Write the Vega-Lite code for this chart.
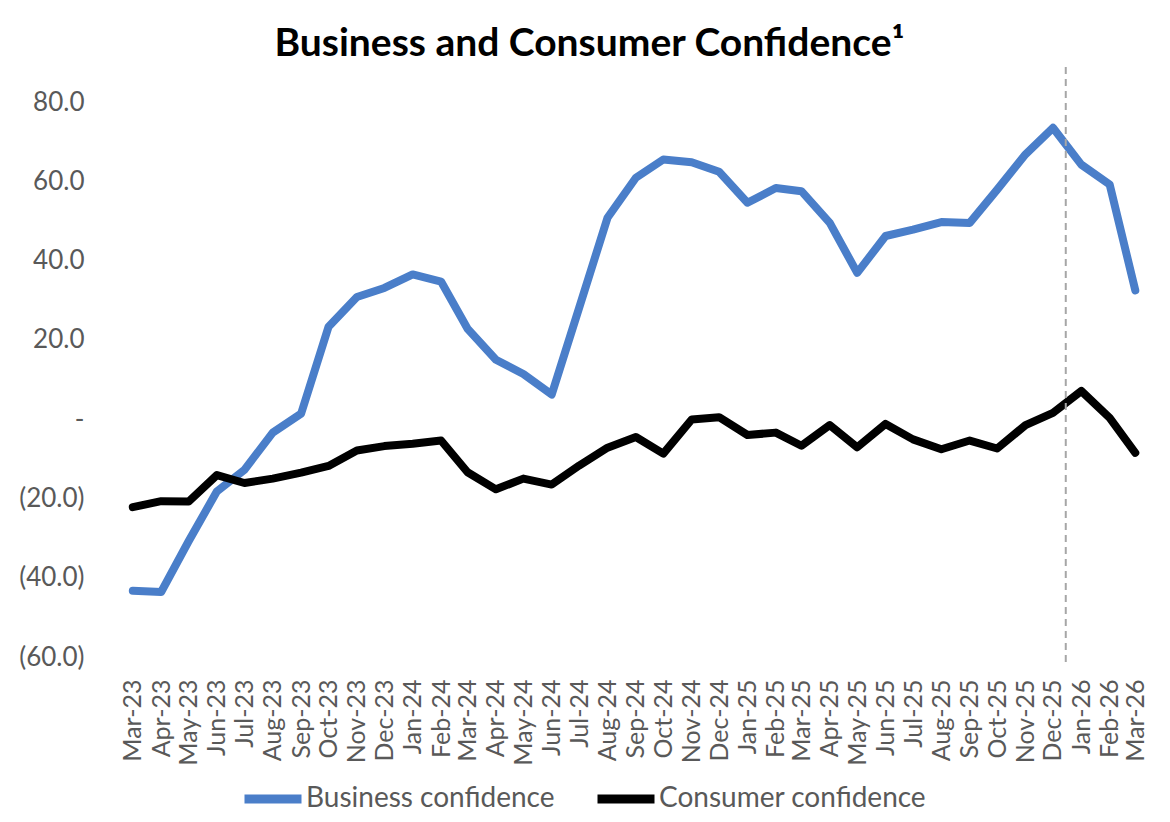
{
  "$schema": "https://vega.github.io/schema/vega-lite/v6.json",
  "width": 1029,
  "height": 555,
  "padding": {"left": 18, "top": 25, "right": 5, "bottom": 5},
  "background": "white",
  "title": {
    "text": "Business and Consumer Confidence¹",
    "font": "Lato",
    "fontSize": 39,
    "fontWeight": "bold",
    "color": "#000000",
    "anchor": "middle",
    "dx": -45,
    "offset": 2
  },
  "config": {
    "view": {"stroke": null},
    "font": "Lato"
  },
  "datasets": {
    "series": [
      {"date": "2023-03-01", "series": "Business confidence", "value": -43.3},
      {"date": "2023-04-01", "series": "Business confidence", "value": -43.6},
      {"date": "2023-05-01", "series": "Business confidence", "value": -30.8},
      {"date": "2023-06-01", "series": "Business confidence", "value": -18.2},
      {"date": "2023-07-01", "series": "Business confidence", "value": -12.8},
      {"date": "2023-08-01", "series": "Business confidence", "value": -3.4},
      {"date": "2023-09-01", "series": "Business confidence", "value": 1.4},
      {"date": "2023-10-01", "series": "Business confidence", "value": 23.3},
      {"date": "2023-11-01", "series": "Business confidence", "value": 30.8},
      {"date": "2023-12-01", "series": "Business confidence", "value": 33.1},
      {"date": "2024-01-01", "series": "Business confidence", "value": 36.5},
      {"date": "2024-02-01", "series": "Business confidence", "value": 34.7},
      {"date": "2024-03-01", "series": "Business confidence", "value": 22.8},
      {"date": "2024-04-01", "series": "Business confidence", "value": 15.0},
      {"date": "2024-05-01", "series": "Business confidence", "value": 11.4},
      {"date": "2024-06-01", "series": "Business confidence", "value": 6.2},
      {"date": "2024-07-01", "series": "Business confidence", "value": 28.1},
      {"date": "2024-08-01", "series": "Business confidence", "value": 50.8},
      {"date": "2024-09-01", "series": "Business confidence", "value": 60.9},
      {"date": "2024-10-01", "series": "Business confidence", "value": 65.5},
      {"date": "2024-11-01", "series": "Business confidence", "value": 64.8},
      {"date": "2024-12-01", "series": "Business confidence", "value": 62.4},
      {"date": "2025-01-01", "series": "Business confidence", "value": 54.6},
      {"date": "2025-02-01", "series": "Business confidence", "value": 58.3},
      {"date": "2025-03-01", "series": "Business confidence", "value": 57.5},
      {"date": "2025-04-01", "series": "Business confidence", "value": 49.5},
      {"date": "2025-05-01", "series": "Business confidence", "value": 36.9},
      {"date": "2025-06-01", "series": "Business confidence", "value": 46.2},
      {"date": "2025-07-01", "series": "Business confidence", "value": 47.8},
      {"date": "2025-08-01", "series": "Business confidence", "value": 49.7},
      {"date": "2025-09-01", "series": "Business confidence", "value": 49.5},
      {"date": "2025-10-01", "series": "Business confidence", "value": 57.9},
      {"date": "2025-11-01", "series": "Business confidence", "value": 66.8},
      {"date": "2025-12-01", "series": "Business confidence", "value": 73.5},
      {"date": "2026-01-01", "series": "Business confidence", "value": 64.2},
      {"date": "2026-02-01", "series": "Business confidence", "value": 59.2},
      {"date": "2026-03-01", "series": "Business confidence", "value": 32.5},
      {"date": "2023-03-01", "series": "Consumer confidence", "value": -22.2},
      {"date": "2023-04-01", "series": "Consumer confidence", "value": -20.7},
      {"date": "2023-05-01", "series": "Consumer confidence", "value": -20.8},
      {"date": "2023-06-01", "series": "Consumer confidence", "value": -14.1},
      {"date": "2023-07-01", "series": "Consumer confidence", "value": -16.1},
      {"date": "2023-08-01", "series": "Consumer confidence", "value": -15.0},
      {"date": "2023-09-01", "series": "Consumer confidence", "value": -13.5},
      {"date": "2023-10-01", "series": "Consumer confidence", "value": -11.8},
      {"date": "2023-11-01", "series": "Consumer confidence", "value": -7.9},
      {"date": "2023-12-01", "series": "Consumer confidence", "value": -6.8},
      {"date": "2024-01-01", "series": "Consumer confidence", "value": -6.2},
      {"date": "2024-02-01", "series": "Consumer confidence", "value": -5.4},
      {"date": "2024-03-01", "series": "Consumer confidence", "value": -13.4},
      {"date": "2024-04-01", "series": "Consumer confidence", "value": -17.7},
      {"date": "2024-05-01", "series": "Consumer confidence", "value": -15.0},
      {"date": "2024-06-01", "series": "Consumer confidence", "value": -16.5},
      {"date": "2024-07-01", "series": "Consumer confidence", "value": -11.7},
      {"date": "2024-08-01", "series": "Consumer confidence", "value": -7.2},
      {"date": "2024-09-01", "series": "Consumer confidence", "value": -4.5},
      {"date": "2024-10-01", "series": "Consumer confidence", "value": -8.7},
      {"date": "2024-11-01", "series": "Consumer confidence", "value": -0.1},
      {"date": "2024-12-01", "series": "Consumer confidence", "value": 0.5},
      {"date": "2025-01-01", "series": "Consumer confidence", "value": -4.0},
      {"date": "2025-02-01", "series": "Consumer confidence", "value": -3.4},
      {"date": "2025-03-01", "series": "Consumer confidence", "value": -6.7},
      {"date": "2025-04-01", "series": "Consumer confidence", "value": -1.5},
      {"date": "2025-05-01", "series": "Consumer confidence", "value": -7.1},
      {"date": "2025-06-01", "series": "Consumer confidence", "value": -1.2},
      {"date": "2025-07-01", "series": "Consumer confidence", "value": -5.1},
      {"date": "2025-08-01", "series": "Consumer confidence", "value": -7.6},
      {"date": "2025-09-01", "series": "Consumer confidence", "value": -5.4},
      {"date": "2025-10-01", "series": "Consumer confidence", "value": -7.4},
      {"date": "2025-11-01", "series": "Consumer confidence", "value": -1.5},
      {"date": "2025-12-01", "series": "Consumer confidence", "value": 1.6},
      {"date": "2026-01-01", "series": "Consumer confidence", "value": 7.1},
      {"date": "2026-02-01", "series": "Consumer confidence", "value": 0.3},
      {"date": "2026-03-01", "series": "Consumer confidence", "value": -8.5}
    ],
    "marker": [
      {"date": "2025-12-15"}
    ]
  },
  "layer": [
    {
      "data": {"name": "series"},
      "mark": {"type": "line", "strokeWidth": 8, "strokeCap": "round", "strokeJoin": "round"},
      "encoding": {
        "x": {
          "field": "date",
          "type": "temporal",
          "scale": {
            "type": "utc",
            "domain": [
              {"year": 2023, "month": 2, "date": 15, "utc": true},
              {"year": 2026, "month": 3, "date": 16, "utc": true}
            ]
          },
          "axis": {
            "title": null,
            "labelExpr": "utcFormat(datum.value, '%b-%y')",
            "tickCount": {"interval": "month", "step": 1},
            "labelAngle": -90,
            "labelAlign": "right",
            "labelBaseline": "middle",
            "labelFont": "Lato",
            "labelFontSize": 25,
            "labelColor": "#595959",
            "labelPadding": 22,
            "labelOverlap": false,
            "labelFlush": false,
            "domain": false,
            "ticks": false,
            "grid": false
          }
        },
        "y": {
          "field": "value",
          "type": "quantitative",
          "scale": {"domain": [-60, 80], "nice": false, "zero": false},
          "axis": {
            "title": null,
            "values": [-60, -40, -20, 0, 20, 40, 60, 80],
            "labelExpr": "datum.value == 0 ? '-' : (datum.value < 0 ? '(' + format(-datum.value, '.1f') + ')' : format(datum.value, '.1f'))",
            "labelFont": "Lato",
            "labelFontSize": 26,
            "labelColor": "#595959",
            "labelPadding": 36,
            "domain": false,
            "ticks": false,
            "grid": false
          }
        },
        "color": {
          "field": "series",
          "type": "nominal",
          "scale": {
            "domain": ["Business confidence", "Consumer confidence"],
            "range": ["#4A7EC9", "#000000"]
          },
          "legend": {
            "title": null,
            "orient": "none",
            "legendX": 120,
            "legendY": 664,
            "direction": "horizontal",
            "symbolType": "stroke",
            "symbolSize": 3249,
            "symbolStrokeWidth": 9,
            "labelFont": "Lato",
            "labelFontSize": 28,
            "labelColor": "#595959",
            "labelOffset": 0,
            "labelLimit": 400,
            "columnPadding": 24
          }
        }
      }
    },
    {
      "mark": {"type": "rule", "color": "#d9d9d9", "strokeWidth": 2},
      "encoding": {"y": {"datum": 0, "type": "quantitative"}}
    },
    {
      "data": {"name": "marker"},
      "mark": {"type": "rule", "color": "#a6a6a6", "strokeWidth": 2, "strokeDash": [7, 5]},
      "encoding": {
        "x": {"field": "date", "type": "temporal"},
        "y": {"datum": 88.8, "type": "quantitative"},
        "y2": {"datum": -62.3}
      }
    }
  ]
}
